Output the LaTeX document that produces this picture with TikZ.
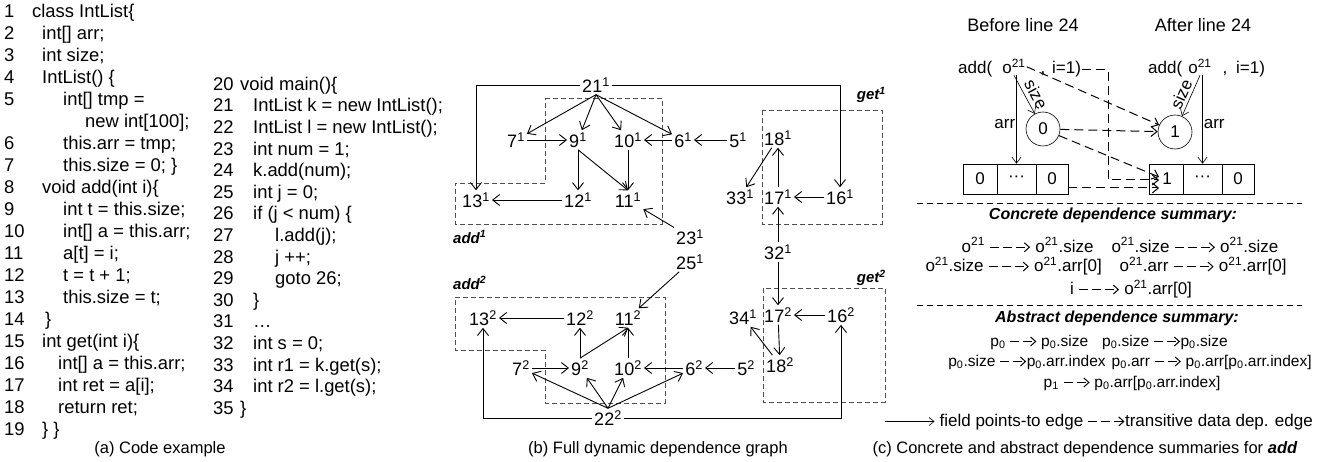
\documentclass[tikz,border=0pt]{standalone}
\usepackage{fontspec}
\setmainfont{Liberation Sans}
\usetikzlibrary{arrows.meta}
\definecolor{regionGray}{RGB}{80,80,80}
\newcommand{\ind}[1]{\hspace*{#1pt}}
\newcommand{\DepArr}[1]{%
\tikz[baseline=-0.55ex]\draw[line width=1pt,dash pattern=on 9pt off 4pt,-{Straight Barb[length=5pt,width=9pt]}] (0pt,0pt) -- (#1pt,0pt);}
\newcommand{\FieldArr}[1]{%
\tikz[baseline=-0.55ex]\draw[line width=0.6pt,-{Straight Barb[length=5pt,width=8pt]}] (0pt,0pt) -- (#1pt,0pt);}
\tikzset{
  code/.style={anchor=north west,inner sep=0pt,font=\fontsize{18.4}{22}\selectfont},
  captext/.style={inner sep=1pt,font=\fontsize{16.5}{18}\selectfont},
  gnode/.style={inner sep=2pt,font=\fontsize{18}{20}\selectfont},
  glabel/.style={inner sep=1pt,font=\fontsize{15}{17}\selectfont\bfseries\itshape},
  garrow/.style={line width=0.9pt,-{Straight Barb[length=7pt,width=11pt]}},
  region/.style={draw=regionGray,line width=0.7pt,dash pattern=on 5pt off 3pt},
  rtext/.style={inner sep=1pt,font=\fontsize{17}{19}\selectfont},
  atext/.style={inner sep=1pt,font=\fontsize{15.5}{18}\selectfont},
  rhead/.style={inner sep=1pt,font=\fontsize{16}{18}\selectfont\bfseries\itshape},
  cell/.style={draw,line width=0.6pt,minimum height=30pt,inner sep=0pt,font=\fontsize{17}{19}\selectfont},
  val/.style={circle,draw,line width=0.6pt,minimum size=34pt,inner sep=0pt,font=\fontsize{17}{19}\selectfont},
  field/.style={line width=0.6pt,-{Straight Barb[length=6pt,width=9pt]}},
  dep/.style={line width=1pt,dash pattern=on 9pt off 5pt,-{Straight Barb[length=6pt,width=10pt]}},
  sepline/.style={line width=0.6pt,dash pattern=on 6pt off 4pt}
}
\begin{document}
\begin{tikzpicture}[x=1pt,y=-1pt]
\useasboundingbox (0,0) rectangle (1322,462);

\node[code] (codeA) at (4,1.6) {\begin{tabular}{@{}p{28pt}@{}l@{}}
1 & class IntList\{\\
2 & \ind{10}int[] arr;\\
3 & \ind{10}int size;\\
4 & \ind{10}IntList() \{\\
5 & \ind{31}int[] tmp =\\
  & \ind{53}new int[100];\\
6 & \ind{31}this.arr = tmp;\\
7 & \ind{31}this.size = 0; \}\\
8 & \ind{10}void add(int i)\{\\
9 & \ind{31}int t = this.size;\\
10 & \ind{31}int[] a = this.arr;\\
11 & \ind{31}a[t] = i;\\
12 & \ind{31}t = t + 1;\\
13 & \ind{31}this.size = t;\\
14 & \ind{13}\}\\
15 & \ind{10}int get(int i)\{\\
16 & \ind{26}int[] a = this.arr;\\
17 & \ind{26}int ret = a[i];\\
18 & \ind{26}return ret;\\
19 & \ind{10}\} \}
\end{tabular}};

\node[code,font=\fontsize{18.4}{21.6}\selectfont] (codeB) at (213,74.9) {\begin{tabular}{@{}p{27pt}@{}l@{}}
20 & void main()\{\\
21 & \ind{13}IntList k = new IntList();\\
22 & \ind{13}IntList l = new IntList();\\
23 & \ind{13}int num = 1;\\
24 & \ind{13}k.add(num);\\
25 & \ind{13}int j = 0;\\
26 & \ind{13}if (j < num) \{\\
27 & \ind{35}l.add(j);\\
28 & \ind{35}j ++;\\
29 & \ind{35}goto 26;\\
30 & \ind{13}\}\\
31 & \ind{13}…\\
32 & \ind{13}int s = 0;\\
33 & \ind{13}int r1 = k.get(s);\\
34 & \ind{13}int r2 = l.get(s);\\
35 & \}
\end{tabular}};

\node[captext] (capA) at (160,449) {(a) Code example};
\node[captext] (capB) at (658,449) {(b) Full dynamic dependence graph};
\node[captext] (capC) at (1085,449) {(c) Concrete and abstract dependence summaries for \textbf{\textit{add}}};

\draw[region] (545,98) -- (662,98) -- (662,224) -- (455,224) -- (455,183) -- (545,183) -- cycle;
\draw[region] (762,110) rectangle (882,224);
\draw[region] (455,297) -- (665,297) -- (665,403) -- (545,403) -- (545,350) -- (455,350) -- cycle;
\draw[region] (763,288) rectangle (885,402);
\node[glabel,anchor=west] (addOne) at (452,237) {add\textsuperscript{1}};
\node[glabel,anchor=east] (getOne) at (887,95) {get\textsuperscript{1}};
\node[glabel,anchor=west] (addTwo) at (452,283) {add\textsuperscript{2}};
\node[glabel,anchor=east] (getTwo) at (887,278) {get\textsuperscript{2}};

\node[gnode] (n21a) at (596,85) {21\textsuperscript{1}};
\node[gnode] (n7a) at (516,140) {7\textsuperscript{1}};
\node[gnode] (n9a) at (578,140) {9\textsuperscript{1}};
\node[gnode] (n10a) at (628,140) {10\textsuperscript{1}};
\node[gnode] (n6a) at (683,140) {6\textsuperscript{1}};
\node[gnode] (n5a) at (738,140) {5\textsuperscript{1}};
\node[gnode] (n18a) at (778,138) {18\textsuperscript{1}};
\node[gnode] (n13a) at (476,200) {13\textsuperscript{1}};
\node[gnode] (n12a) at (578,200) {12\textsuperscript{1}};
\node[gnode] (n11a) at (628,200) {11\textsuperscript{1}};
\node[gnode] (n33a) at (740,197) {33\textsuperscript{1}};
\node[gnode] (n17a) at (778,197) {17\textsuperscript{1}};
\node[gnode] (n16a) at (840,197) {16\textsuperscript{1}};
\node[gnode] (n23a) at (690,237) {23\textsuperscript{1}};
\node[gnode] (n25a) at (690,262) {25\textsuperscript{1}};
\node[gnode] (n32a) at (778,252) {32\textsuperscript{1}};
\node[gnode] (n13b) at (483,318) {13\textsuperscript{2}};
\node[gnode] (n12b) at (580,318) {12\textsuperscript{2}};
\node[gnode] (n11b) at (628,318) {11\textsuperscript{2}};
\node[gnode] (n34a) at (743,317) {34\textsuperscript{1}};
\node[gnode] (n17b) at (778,315) {17\textsuperscript{2}};
\node[gnode] (n16b) at (841,315) {16\textsuperscript{2}};
\node[gnode] (n7b) at (521,368) {7\textsuperscript{2}};
\node[gnode] (n9b) at (580,368) {9\textsuperscript{2}};
\node[gnode] (n10b) at (628,368) {10\textsuperscript{2}};
\node[gnode] (n6b) at (694,368) {6\textsuperscript{2}};
\node[gnode] (n5b) at (746,368) {5\textsuperscript{2}};
\node[gnode] (n18b) at (780,365) {18\textsuperscript{2}};
\node[gnode] (n22b) at (608,418) {22\textsuperscript{2}};

\draw[garrow] (n21a.west) -| (n13a.north);
\draw[garrow] (n21a.east) -| (n16a.north);
\draw[garrow] (n21a.south) -- (n7a);
\draw[garrow] (n21a.south) -- (n9a);
\draw[garrow] (n21a.south) -- (n10a);
\draw[garrow] (n21a.south) -- (n6a);
\draw[garrow] (n7a) -- (n9a);
\draw[garrow] (n5a) -- (n6a);
\draw[garrow] (n6a) -- (n10a);
\draw[garrow] (n9a.south) -- (n12a.north);
\draw[garrow] (n9a.south) -- (n11a.north);
\draw[garrow] (n10a) -- (n11a);
\draw[garrow] (n12a) -- (n13a);
\draw[garrow] (n23a) -- (n11a);
\draw[garrow] (n16a) -- (n17a);
\draw[garrow] (n17a) -- (n18a);
\draw[garrow] (n18a) -- (n33a);
\draw[garrow] (n32a) -- (n17a);
\draw[garrow] (n32a) -- (n17b);
\draw[garrow] (n25a) -- (n11b);
\draw[garrow] (n22b.west) -| (n13b.south);
\draw[garrow] (n22b.east) -| (n16b.south);
\draw[garrow] (n22b.north) -- (n7b);
\draw[garrow] (n22b.north) -- (n9b);
\draw[garrow] (n22b.north) -- (n10b);
\draw[garrow] (n22b.north) -- (n6b);
\draw[garrow] (n7b) -- (n9b);
\draw[garrow] (n5b) -- (n6b);
\draw[garrow] (n6b) -- (n10b);
\draw[garrow] (n9b.north) -- (n12b.south);
\draw[garrow] (n9b.north) -- (n11b.south);
\draw[garrow] (n10b) -- (n11b);
\draw[garrow] (n12b) -- (n13b);
\draw[garrow] (n16b) -- (n17b);
\draw[garrow] (n17b) -- (n18b);
\draw[garrow] (n18b) -- (n34a);

\node[inner sep=1pt,font=\fontsize{18}{20}\selectfont] (before) at (1023,25) {Before line 24};
\node[inner sep=1pt,font=\fontsize{18}{20}\selectfont] (after) at (1203,25) {After line 24};

\node[rtext,anchor=base west] (addA) at (957,74) {add(};
\node[rtext,anchor=base] (oA) at (1014,74) {o\textsuperscript{21}};
\node[rtext,anchor=base] (commaA) at (1043,74) {,};
\node[rtext,anchor=base west] (iA) at (1051,74) {i=1)};
\node[val] (cA) at (1043,129) {0};
\node[cell,minimum width=34pt] (cellA1) at (980,179) {0};
\node[cell,minimum width=39pt] (cellA2) at (1016.5,179) {···};
\node[cell,minimum width=32pt] (cellA3) at (1052,179) {0};

\node[rtext,anchor=base west] (addB) at (1147,74) {add(};
\node[rtext,anchor=base] (oB) at (1200,74) {o\textsuperscript{21}};
\node[rtext,anchor=base] (commaB) at (1225,74) {,};
\node[rtext,anchor=base west] (iB) at (1235,74) {i=1)};
\node[val] (cB) at (1175,132) {1};
\node[cell,minimum width=34pt] (cellB1) at (1166,179) {};
\node[rtext,inner sep=3pt] (oneB) at (1167,179) {1};
\node[cell,minimum width=39pt] (cellB2) at (1202.5,179) {···};
\node[cell,minimum width=32pt] (cellB3) at (1238,179) {0};

\draw[field] (cellA2.north |- oA.south) -- node[rtext,left,pos=0.55] {arr} (cellA2.north);
\draw[field] (oA.south) -- node[rtext,sloped,above=3pt,pos=0.62] {size} (cA);
\draw[field] (cellB2.north |- oB.south) -- node[rtext,right,pos=0.55] {arr} (cellB2.north);
\draw[field] (oB.south) -- node[rtext,sloped,above=2pt,pos=0.56] {size} (cB);

\draw[dep] (oA.east) -- (cB);
\draw[dep] (cA) -- (cB);
\draw[dep] (cA) -- ([yshift=2pt]oneB.west);
\draw[dep] (iA.east) -- ++(26,0) |- ([yshift=-1pt]oneB.west);
\draw[dep] ([yshift=-9pt]cellA3.east) -- ([yshift=-9pt]oneB.west);

\draw[sepline] (917,203) -- (1302,203);
\node[rhead] (concHead) at (1113,215) {Concrete dependence summary:};
\node[rtext] (concRow1) at (1120,245) {o\textsuperscript{21} \DepArr{40} o\textsuperscript{21}.size\hspace{18pt}o\textsuperscript{21}.size \DepArr{40} o\textsuperscript{21}.size};
\node[rtext] (concRow2) at (1106,266) {o\textsuperscript{21}.size \DepArr{40} o\textsuperscript{21}.arr[0]\hspace{18pt}o\textsuperscript{21}.arr \DepArr{40} o\textsuperscript{21}.arr[0]};
\node[rtext] (concRow3) at (1131,289) {i \DepArr{40} o\textsuperscript{21}.arr[0]};
\draw[sepline] (917,305) -- (1302,305);
\node[rhead] (absHead) at (1117,318) {Abstract dependence summary:};
\node[atext] (absRow1) at (1109,342) {p\textsubscript{0} \DepArr{26} p\textsubscript{0}.size\hspace{14pt}p\textsubscript{0}.size \DepArr{26}p\textsubscript{0}.size};
\node[atext] (absRow2) at (1130,362) {p\textsubscript{0}.size \DepArr{26}p\textsubscript{0}.arr.index\hspace{6pt}p\textsubscript{0}.arr \DepArr{26} p\textsubscript{0}.arr[p\textsubscript{0}.arr.index]};
\node[atext] (absRow3) at (1132,383) {p\textsubscript{1} \DepArr{26} p\textsubscript{0}.arr[p\textsubscript{0}.arr.index]};
\node[rtext,anchor=east] (legend) at (1314,422) {\FieldArr{50} field points-to edge \DepArr{36}transitive data dep. edge};
\end{tikzpicture}
\end{document}
